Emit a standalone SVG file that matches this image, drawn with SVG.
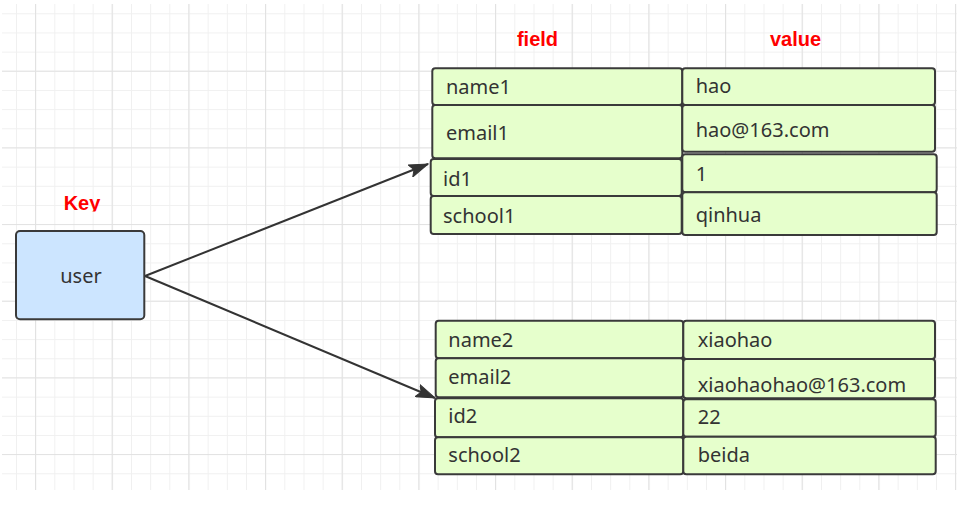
<svg xmlns="http://www.w3.org/2000/svg" width="971" height="512" viewBox="0 0 971 512">
<defs>
<pattern id="minor" patternUnits="userSpaceOnUse" x="16" y="13.3" width="19.1667" height="19.1667">
<path d="M0.5,0 V19.1667 M0,0.5 H19.1667" stroke="#f0f0f0" stroke-width="1" fill="none"/>
</pattern>
<pattern id="major" patternUnits="userSpaceOnUse" x="35" y="70.7" width="76.667" height="76.667">
<path d="M0.5,0 V76.667 M0,0.5 H76.667" stroke="#e2e2e2" stroke-width="1.2" fill="none"/>
</pattern>
<marker id="arrow" markerUnits="userSpaceOnUse" markerWidth="22" markerHeight="14" refX="19" refY="7" orient="auto">
<path d="M0,0.5 L19,7 L0,13.5 L4,7 Z" fill="#333333" stroke="#333333" stroke-width="1"/>
</marker>
<clipPath id="keyclip"><rect x="40" y="180" width="90" height="31.5"/></clipPath>
</defs>
<style>
.cell{fill:#e6ffcc;stroke:#3a3a3a;stroke-width:2}
.key{fill:#cce5ff;stroke:#3a3a3a;stroke-width:2}
.t{font-family:"Noto Sans","Liberation Sans",sans-serif;font-size:20px;fill:#333333}
.h{font-family:"Liberation Sans",Arial,sans-serif;font-size:20px;font-weight:bold;fill:#ff0000}
.edge{stroke:#333333;stroke-width:2;fill:none;marker-end:url(#arrow)}
</style>
<rect width="971" height="512" fill="#ffffff"/>
<rect x="2" y="4" width="955" height="486" fill="url(#minor)"/>
<rect x="2" y="4" width="955" height="486" fill="url(#major)"/>

<text class="h" x="537.5" y="46" text-anchor="middle">field</text>
<text class="h" x="795.5" y="46" text-anchor="middle">value</text>
<text class="h" x="82" y="209.5" text-anchor="middle" clip-path="url(#keyclip)">Key</text>

<g id="edges">
<path class="edge" d="M145,276 L428,164"/>
<path class="edge" d="M145,276 L435,398"/>
</g>

<g id="key-user">
<rect class="key" x="16" y="231" width="128.3" height="88.3" rx="4"/>
<text class="t" x="81" y="283" text-anchor="middle">user</text>
</g>

<g id="field-name1"><rect class="cell" x="432.3" y="68.3" width="250" height="36.7" rx="3"/><text class="t" x="446" y="94.3">name1</text></g>
<g id="field-email1"><rect class="cell" x="432.3" y="105" width="250" height="53.3" rx="3"/><text class="t" x="446" y="140">email1</text></g>
<g id="field-id1"><rect class="cell" x="430.7" y="159" width="251" height="37" rx="3"/><text class="t" x="443" y="186">id1</text></g>
<g id="field-school1"><rect class="cell" x="430.7" y="196" width="251" height="38" rx="3"/><text class="t" x="443" y="223.3">school1</text></g>

<g id="value-hao"><rect class="cell" x="682.3" y="68.3" width="252.7" height="36.7" rx="3"/><text class="t" x="695.7" y="93.3">hao</text></g>
<g id="value-email1"><rect class="cell" x="682.3" y="105" width="252.7" height="46.7" rx="3"/><text class="t" x="695.7" y="136.7">hao@163.com</text></g>
<g id="value-id1"><rect class="cell" x="682.3" y="154.3" width="254.4" height="38" rx="3"/><text class="t" x="695.7" y="180.7">1</text></g>
<g id="value-school1"><rect class="cell" x="682.3" y="192.3" width="254.4" height="42.7" rx="3"/><text class="t" x="695.7" y="221.7">qinhua</text></g>

<g id="field-name2"><rect class="cell" x="435.7" y="320.7" width="247.6" height="37.6" rx="3"/><text class="t" x="448.3" y="347.3">name2</text></g>
<g id="field-email2"><rect class="cell" x="435.7" y="358.3" width="247.6" height="39" rx="3"/><text class="t" x="448.3" y="384">email2</text></g>
<g id="field-id2"><rect class="cell" x="435" y="398.3" width="248.3" height="39" rx="3"/><text class="t" x="448.3" y="423.3">id2</text></g>
<g id="field-school2"><rect class="cell" x="435" y="437.3" width="248.3" height="37" rx="3"/><text class="t" x="448.3" y="461.7">school2</text></g>

<g id="value-name2"><rect class="cell" x="683.3" y="320.7" width="251.7" height="38.3" rx="3"/><text class="t" x="697.7" y="346.7">xiaohao</text></g>
<g id="value-email2"><rect class="cell" x="683.3" y="359" width="251.7" height="39.3" rx="3"/><text class="t" x="697.7" y="391.7">xiaohaohao@163.com</text></g>
<g id="value-id2"><rect class="cell" x="683.3" y="399.3" width="252.4" height="37.4" rx="3"/><text class="t" x="697.7" y="424">22</text></g>
<g id="value-school2"><rect class="cell" x="683.3" y="436.7" width="252.4" height="37.6" rx="3"/><text class="t" x="697.7" y="462.3">beida</text></g>
</svg>
